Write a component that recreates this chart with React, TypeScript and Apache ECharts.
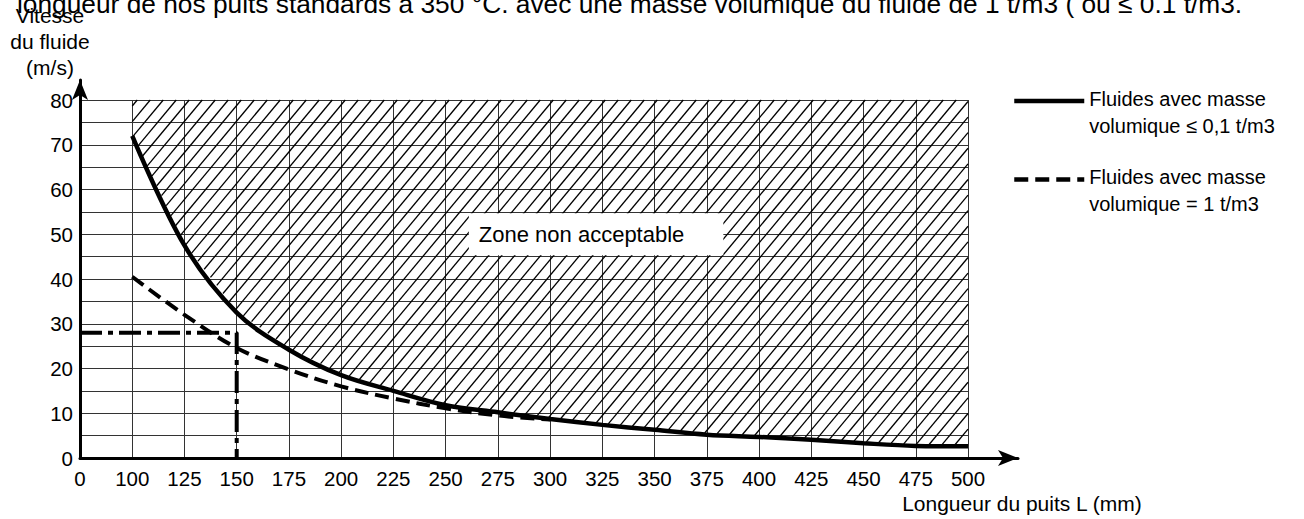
import React, { useEffect, useRef } from "react";
import * as echarts from "echarts";

const FONT = "'Liberation Sans', Arial, Helvetica, sans-serif";

const titleText =
  "longueur de nos puits standards à 350 °C. avec une masse volumique du fluide de 1 t/m3 ( ou ≤ 0.1 t/m3.";
const yAxisName = "Vitesse\ndu fluide\n(m/s)";
const xAxisName = "Longueur du puits L (mm)";

const xTickLabels = ["0", "100", "125", "150", "175", "200", "225", "250", "275", "300", "325", "350", "375", "400", "425", "450", "475", "500"];
const yTickLabels = ["0", "10", "20", "30", "40", "50", "60", "70", "80"];

const seriesNames = [
  "Fluides avec masse\nvolumique ≤ 0,1 t/m3",
  "Fluides avec masse\nvolumique = 1 t/m3",
];

// Solid curve (masse volumique ≤ 0,1 t/m3)
const lightL = [100, 125, 150, 175, 200, 225, 250, 275, 300, 325, 350, 375, 400, 425, 450, 475, 500];
const lightV = [72, 47.5, 32.5, 24.2, 18.5, 15.0, 11.8, 10.2, 8.7, 7.4, 6.3, 5.2, 4.7, 4.1, 3.3, 2.7, 2.6];

// Dashed curve (masse volumique = 1 t/m3)
const denseL = [100, 125, 150, 175, 200, 225, 250, 275, 300];
const denseV = [40.5, 32.0, 24.6, 19.8, 16.0, 13.3, 11.1, 9.5, 8.6];

// Example reading (dash-dot)
const refL = 150;
const refV = 28;

// Zone label
const zoneText = "Zone non acceptable";
const zoneL = 322;
const zoneV = 50;

const hatchTopV = 80;

// x axis: 0, then 100..500 by 25, equally spaced
const toPos = (L: number) => (L < 100 ? L / 100 : 1 + (L - 100) / 25);

export default function App() {
  const ref = useRef<HTMLDivElement>(null);

  useEffect(() => {
    if (!ref.current) return;
    const chart = echarts.init(ref.current, undefined, { renderer: "svg" });

    const renderHatch = (_params: any, api: any) => {
      const pts = lightL.map((L, i) => api.coord([toPos(L), lightV[i]]));
      const tl = api.coord([toPos(lightL[0]), hatchTopV]);
      const tr = api.coord([toPos(lightL[lightL.length - 1]), hatchTopV]);
      const X0 = tl[0];
      const X1 = tr[0];
      const YT = tl[1];
      const inset = 1.5;
      const curveY = (x: number) => {
        if (x <= pts[0][0]) return pts[0][1];
        for (let i = 1; i < pts.length; i++) {
          if (x <= pts[i][0]) {
            const t = (x - pts[i - 1][0]) / (pts[i][0] - pts[i - 1][0]);
            return pts[i - 1][1] + t * (pts[i][1] - pts[i - 1][1]);
          }
        }
        return pts[pts.length - 1][1];
      };
      const s = 1.2;
      const step = 13;
      const cMax = X1 + (curveY(X1) - YT) / s;
      const children: any[] = [];
      for (let c = X0 + 5; c < cMax; c += step) {
        let sx: number, sy: number;
        if (c <= X1) {
          sx = c;
          sy = YT;
        } else {
          sx = X1;
          sy = YT + s * (c - X1);
        }
        const yLine = (x: number) => YT + s * (c - x);
        const f = (x: number) => yLine(x) - (curveY(x) - inset);
        if (f(sx) >= 0) continue;
        let ex: number;
        if (f(X0) < 0) {
          ex = X0;
        } else {
          let lo = X0;
          let hi = sx;
          for (let k = 0; k < 40; k++) {
            const mid = (lo + hi) / 2;
            if (f(mid) >= 0) lo = mid;
            else hi = mid;
          }
          ex = hi;
        }
        children.push({
          type: "line",
          shape: { x1: sx, y1: sy, x2: ex, y2: yLine(ex) },
          style: { stroke: "#000", lineWidth: 1.3 },
        });
      }
      return { type: "group", children };
    };

    const option: any = {
      animation: false,
      backgroundColor: "#fff",
      color: ["#000", "#000"],
      title: {
        text: titleText,
        left: 12,
        top: -14,
        textStyle: { fontFamily: FONT, fontSize: 26.3, fontWeight: "normal", color: "#000" },
      },
      legend: {
        orient: "vertical",
        left: 1007,
        top: 64,
        itemWidth: 70,
        itemHeight: 14,
        itemGap: 12,
        selectedMode: false,
        data: seriesNames,
        itemStyle: { opacity: 0 },
        lineStyle: { width: 4.5 },
        formatter: (name: string) =>
          "{s| }\n" + name.split("\n").map((l) => `{t|${l}}`).join("\n"),
        textStyle: {
          fontFamily: FONT,
          fontSize: 20,
          color: "#000",
          rich: {
            s: { fontSize: 10, lineHeight: 22 },
            t: { fontFamily: FONT, fontSize: 20, lineHeight: 27, color: "#000" },
          },
        },
      },
      graphic: [
        {
          type: "text",
          x: 1022,
          y: 503,
          silent: true,
          style: {
            text: xAxisName,
            fontFamily: FONT,
            fontSize: 21,
            fill: "#000",
            align: "center",
            verticalAlign: "middle",
          },
        },
      ],
      grid: [
        { left: 80, right: 336, top: 100, bottom: 61 },
        { left: 80, right: 286, top: 80, bottom: 61 },
      ],
      xAxis: [
        {
          type: "value",
          gridIndex: 0,
          min: 0,
          max: 17,
          interval: 1,
          axisLine: { show: false },
          axisTick: { show: false },
          axisLabel: {
            formatter: (v: number) => xTickLabels[Math.round(v)] ?? "",
            fontFamily: FONT,
            fontSize: 20.5,
            color: "#000",
            margin: 10,
          },
          splitLine: { show: true, lineStyle: { color: "#333", width: 1 } },
        },
        {
          type: "value",
          gridIndex: 1,
          min: 0,
          max: 1,
          axisLine: {
            show: true,
            onZero: false,
            symbol: ["none", "arrow"],
            symbolSize: [12, 20],
            lineStyle: { color: "#000", width: 3 },
          },
          axisTick: { show: false },
          axisLabel: { show: false },
          splitLine: { show: false },
        },
      ],
      yAxis: [
        {
          type: "value",
          gridIndex: 0,
          min: 0,
          max: 80,
          interval: 5,
          axisLine: { show: false },
          axisTick: { show: false },
          axisLabel: {
            formatter: (v: number) => (v % 10 === 0 ? yTickLabels[v / 10] : ""),
            fontFamily: FONT,
            fontSize: 20.5,
            color: "#000",
            margin: 7,
          },
          splitLine: { show: true, lineStyle: { color: "#333", width: 1 } },
          name: yAxisName,
          nameLocation: "end",
          nameGap: 20,
          nameTextStyle: {
            fontFamily: FONT,
            fontSize: 21,
            lineHeight: 26,
            color: "#000",
            align: "center",
            verticalAlign: "bottom",
            padding: [0, 60, 0, 0],
          },
        },
        {
          type: "value",
          gridIndex: 1,
          min: 0,
          max: 1,
          axisLine: {
            show: true,
            onZero: false,
            symbol: ["none", "arrow"],
            symbolSize: [12, 20],
            lineStyle: { color: "#000", width: 3 },
          },
          axisTick: { show: false },
          axisLabel: { show: false },
          splitLine: { show: false },
        },
      ],
      series: [
        {
          type: "custom",
          xAxisIndex: 0,
          yAxisIndex: 0,
          renderItem: renderHatch,
          data: [[toPos(lightL[0]), hatchTopV]],
          silent: true,
          z: 1,
        },
        {
          name: seriesNames[0],
          type: "line",
          xAxisIndex: 0,
          yAxisIndex: 0,
          data: lightL.map((L, i) => [toPos(L), lightV[i]]),
          smooth: 0.35,
          symbol: "none",
          itemStyle: { color: "#000" },
          lineStyle: { color: "#000", width: 4.5 },
          z: 3,
          markPoint: {
            symbol: "rect",
            symbolSize: 0,
            silent: true,
            data: [{ coord: [toPos(zoneL), zoneV] }],
            label: {
              show: true,
              position: "inside",
              formatter: zoneText,
              backgroundColor: "#fff",
              padding: [10, 39, 10, 10],
              fontFamily: FONT,
              fontSize: 22,
              color: "#000",
            },
          },
        },
        {
          name: seriesNames[1],
          type: "line",
          xAxisIndex: 0,
          yAxisIndex: 0,
          data: denseL.map((L, i) => [toPos(L), denseV[i]]),
          smooth: 0.35,
          symbol: "none",
          itemStyle: { color: "#000" },
          lineStyle: { color: "#000", width: 4, type: [14, 7] },
          z: 3,
        },
        {
          name: "lecture",
          type: "line",
          xAxisIndex: 0,
          yAxisIndex: 0,
          data: [
            [0, refV],
            [toPos(refL), refV],
            [toPos(refL), 0],
          ],
          symbol: "none",
          lineStyle: { color: "#000", width: 4, type: [22, 6, 5, 6] },
          z: 4,
        },
      ],
    };

    chart.setOption(option);
    return () => chart.dispose();
  }, []);

  return (
    <div
      ref={ref}
      style={{ position: "fixed", left: 0, top: 0, width: 1304, height: 519, background: "#fff" }}
    />
  );
}
